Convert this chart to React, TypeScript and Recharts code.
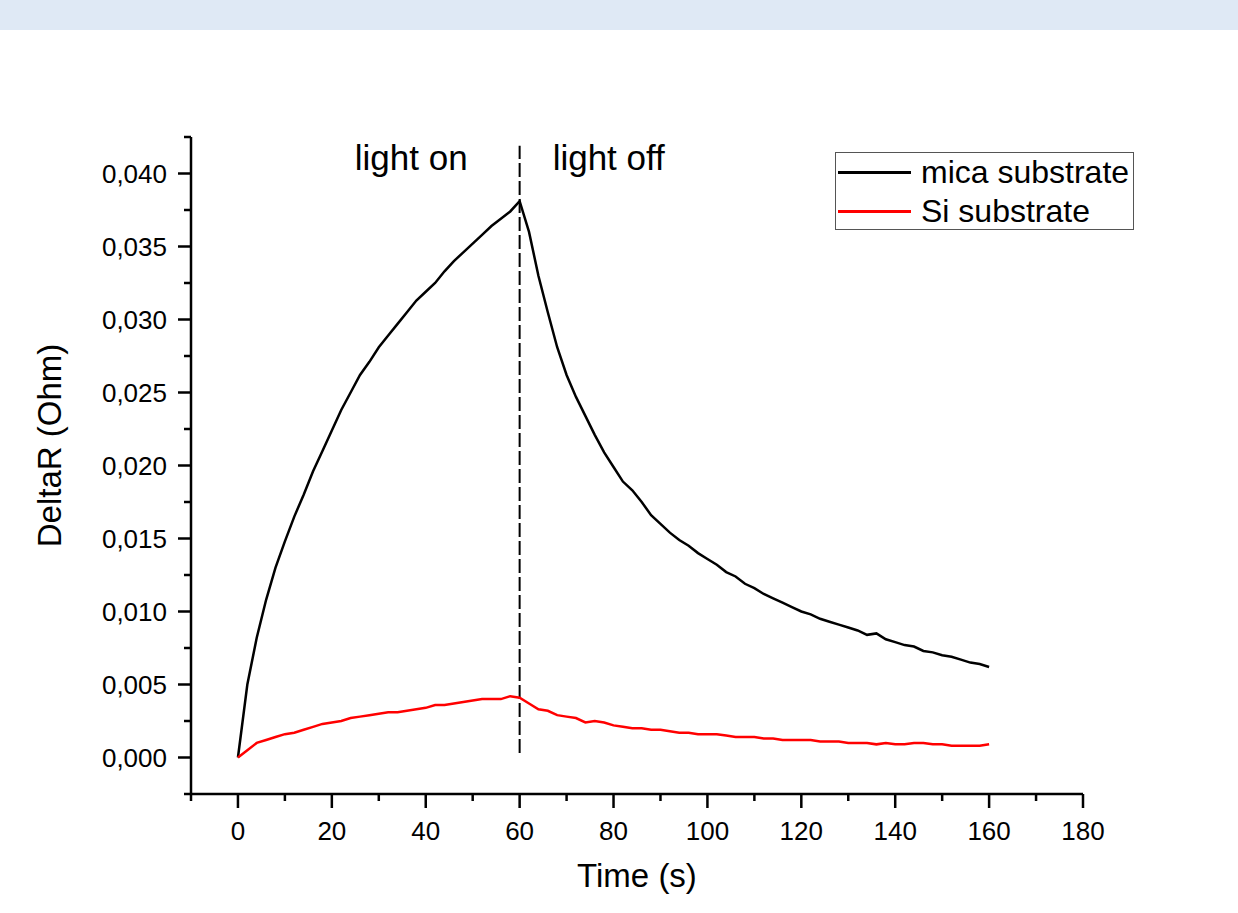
import { LineChart, Line, XAxis, YAxis, ReferenceLine, Legend, Label } from 'recharts';

// time in seconds
const time = [
  0, 2, 4, 6, 8, 10, 12, 14, 16, 18, 20, 22, 24, 26, 28, 30, 32, 34, 36, 38, 40,
  42, 44, 46, 48, 50, 52, 54, 56, 58, 60, 62, 64, 66, 68, 70, 72, 74, 76, 78, 80,
  82, 84, 86, 88, 90, 92, 94, 96, 98, 100, 102, 104, 106, 108, 110, 112, 114, 116, 118, 120,
  122, 124, 126, 128, 130, 132, 134, 136, 138, 140, 142, 144, 146, 148, 150, 152, 154, 156, 158, 160,
];

// DeltaR (Ohm)
const micaSubstrate = [
  0.0, 0.005, 0.0082, 0.0108, 0.013, 0.0148, 0.0165, 0.018, 0.0196, 0.021, 0.0224,
  0.0238, 0.025, 0.0262, 0.0271, 0.0281, 0.0289, 0.0297, 0.0305, 0.0313, 0.0319,
  0.0325, 0.0333, 0.034, 0.0346, 0.0352, 0.0358, 0.0364, 0.0369, 0.0374, 0.0381,
  0.036, 0.033, 0.0305, 0.0281, 0.0262, 0.0247, 0.0234, 0.0221, 0.0209, 0.0199,
  0.0189, 0.0183, 0.0175, 0.0166, 0.016, 0.0154, 0.0149, 0.0145, 0.014, 0.0136,
  0.0132, 0.0127, 0.0124, 0.0119, 0.0116, 0.0112, 0.0109, 0.0106, 0.0103, 0.01,
  0.0098, 0.0095, 0.0093, 0.0091, 0.0089, 0.0087, 0.0084, 0.0085, 0.0081, 0.0079,
  0.0077, 0.0076, 0.0073, 0.0072, 0.007, 0.0069, 0.0067, 0.0065, 0.0064, 0.0062,
];

const siSubstrate = [
  0.0, 0.0005, 0.001, 0.0012, 0.0014, 0.0016, 0.0017, 0.0019, 0.0021, 0.0023, 0.0024,
  0.0025, 0.0027, 0.0028, 0.0029, 0.003, 0.0031, 0.0031, 0.0032, 0.0033, 0.0034,
  0.0036, 0.0036, 0.0037, 0.0038, 0.0039, 0.004, 0.004, 0.004, 0.0042, 0.0041,
  0.0037, 0.0033, 0.0032, 0.0029, 0.0028, 0.0027, 0.0024, 0.0025, 0.0024, 0.0022,
  0.0021, 0.002, 0.002, 0.0019, 0.0019, 0.0018, 0.0017, 0.0017, 0.0016, 0.0016,
  0.0016, 0.0015, 0.0014, 0.0014, 0.0014, 0.0013, 0.0013, 0.0012, 0.0012, 0.0012,
  0.0012, 0.0011, 0.0011, 0.0011, 0.001, 0.001, 0.001, 0.0009, 0.001, 0.0009,
  0.0009, 0.001, 0.001, 0.0009, 0.0009, 0.0008, 0.0008, 0.0008, 0.0008, 0.0009,
];

const seriesNames = ['mica substrate', 'Si substrate'];

const xTicks = [-10, 0, 10, 20, 30, 40, 50, 60, 70, 80, 90, 100, 110, 120, 130, 140, 150, 160, 170, 180];
const xTickLabels = [0, 20, 40, 60, 80, 100, 120, 140, 160, 180];
const yTicks = [
  -0.0025, 0, 0.0025, 0.005, 0.0075, 0.01, 0.0125, 0.015, 0.0175, 0.02,
  0.0225, 0.025, 0.0275, 0.03, 0.0325, 0.035, 0.0375, 0.04, 0.0425,
];
const yTickLabels = [0, 0.005, 0.01, 0.015, 0.02, 0.025, 0.03, 0.035, 0.04];

// dashed marker where the light is switched off
const switchLine = [{ x: 60, y: 0.0003 }, { x: 60, y: 0.0419 }];

const data = time.map((t, i) => ({ t, mica: micaSubstrate[i], si: siSubstrate[i] }));

const FONT = '"Liberation Sans", Arial, sans-serif';
const X_TICK = 14;
const X_GAP = 14;
const Y_TICK = 13;
const Y_GAP = 11;

const XTick = (props: any) => {
  const { x, y, payload } = props;
  const axisY = y - X_TICK - X_GAP;
  const major = xTickLabels.includes(payload.value);
  return (
    <g>
      <line x1={x} x2={x} y1={axisY} y2={axisY + (major ? X_TICK : 7)} stroke="#000" strokeWidth={2.5} />
      {major && (
        <text x={x} y={y} dy="0.71em" textAnchor="middle" fill="#000" fontSize={26} fontFamily={FONT}>
          {payload.value}
        </text>
      )}
    </g>
  );
};

const YTick = (props: any) => {
  const { x, y, payload } = props;
  const axisX = x + Y_TICK + Y_GAP;
  const major = yTickLabels.includes(payload.value);
  return (
    <g>
      <line x1={axisX - (major ? Y_TICK : 7)} x2={axisX} y1={y} y2={y} stroke="#000" strokeWidth={2.5} />
      {major && (
        <text x={x} y={y} dy="0.36em" textAnchor="end" fill="#000" fontSize={26} fontFamily={FONT}>
          {payload.value.toFixed(3).replace('.', ',')}
        </text>
      )}
    </g>
  );
};

const LegendBox = ({ payload }: any) => {
  const items = [...(payload || [])].sort(
    (a: any, b: any) => seriesNames.indexOf(a.value) - seriesNames.indexOf(b.value)
  );
  return (
    <div
      style={{
        border: '1px solid #555',
        width: 299,
        height: 78,
        boxSizing: 'border-box',
        background: '#fff',
        fontFamily: FONT,
        fontSize: 32,
        color: '#000',
        overflow: 'hidden',
      }}
    >
      {items.map((p: any) => (
        <div key={p.value} style={{ display: 'flex', alignItems: 'center', height: 39, whiteSpace: 'nowrap' }}>
          <span style={{ width: 73, height: 2.5, background: p.color, marginLeft: 2, marginRight: 10, flex: 'none' }} />
          {p.value}
        </div>
      ))}
    </div>
  );
};

export default function App() {
  return (
    <div style={{ position: 'absolute', left: 0, top: 0, width: 1238, height: 913, background: '#fff' }}>
      <div style={{ position: 'absolute', left: 0, top: 0, width: 1238, height: 30, background: '#dfe9f5' }} />
      <LineChart width={1238} height={913} data={data} margin={{ top: 137, right: 155, bottom: 19, left: 41 }}>
        <XAxis
          dataKey="t"
          type="number"
          domain={[-10, 180]}
          ticks={xTicks}
          interval={0}
          tickSize={X_TICK}
          tickMargin={X_GAP}
          tickLine={false}
          tick={<XTick />}
          axisLine={{ stroke: '#000', strokeWidth: 2.5 }}
          height={100}
        >
          <Label
            content={(p: any) => (
              <text
                x={p.viewBox.x + p.viewBox.width / 2}
                y={p.viewBox.y + 93}
                textAnchor="middle"
                fill="#000"
                fontSize={33}
                fontFamily={FONT}
              >
                Time (s)
              </text>
            )}
          />
        </XAxis>
        <YAxis
          type="number"
          domain={[-0.0025, 0.0425]}
          ticks={yTicks}
          interval={0}
          tickSize={Y_TICK}
          tickMargin={Y_GAP}
          tickLine={false}
          tick={<YTick />}
          axisLine={{ stroke: '#000', strokeWidth: 2.5 }}
          width={150}
        >
          <Label
            content={(p: any) => {
              const cx = p.viewBox.x + 20;
              const cy = p.viewBox.y + p.viewBox.height / 2 - 20;
              return (
                <text
                  x={cx}
                  y={cy}
                  textAnchor="middle"
                  transform={`rotate(-90, ${cx}, ${cy})`}
                  fill="#000"
                  fontSize={33}
                  fontFamily={FONT}
                >
                  DeltaR (Ohm)
                </text>
              );
            }}
          />
        </YAxis>
        <ReferenceLine
          segment={switchLine}
          stroke="#000"
          strokeWidth={2}
          strokeDasharray="14 4"
          ifOverflow="visible"
        >
          <Label
            content={(p: any) => (
              <g fontSize={35} fontFamily={FONT} fill="#000">
                <text x={p.viewBox.x - 52} y={p.viewBox.y + 24} textAnchor="end">light on</text>
                <text x={p.viewBox.x + 33} y={p.viewBox.y + 24} textAnchor="start">light off</text>
              </g>
            )}
          />
        </ReferenceLine>
        <Legend
          layout="horizontal"
          verticalAlign="middle"
          align="center"
          wrapperStyle={{ left: 835, top: 152, width: 299 }}
          content={<LegendBox />}
        />
        <Line
          type="linear"
          dataKey="mica"
          name={seriesNames[0]}
          stroke="#000"
          strokeWidth={2.5}
          dot={false}
          activeDot={false}
          isAnimationActive={false}
        />
        <Line
          type="linear"
          dataKey="si"
          name={seriesNames[1]}
          stroke="#ff0000"
          strokeWidth={2.5}
          dot={false}
          activeDot={false}
          isAnimationActive={false}
        />
      </LineChart>
    </div>
  );
}
